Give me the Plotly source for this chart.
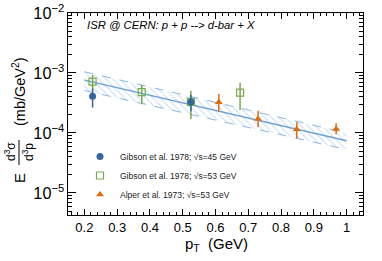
import plotly.graph_objects as go

# ---- data ----
gib45_pt = [0.225, 0.525]
gib45_y = [4.1e-4, 3.3e-4]
gib45_ep = [1.4e-4, 1.0e-4]
gib45_em = [1.45e-4, 1.0e-4]

gib53_pt = [0.225, 0.375, 0.525, 0.675]
gib53_y = [7.2e-4, 4.8e-4, 3.3e-4, 4.7e-4]
gib53_ep = [2.1e-4, 1.5e-4, 1.77e-4, 2.2e-4]
gib53_em = [2.1e-4, 1.8e-4, 1.61e-4, 2.28e-4]

alper_pt = [0.61, 0.73, 0.848, 0.968]
alper_y = [3.24e-4, 1.71e-4, 1.15e-4, 1.17e-4]
alper_ep = [1.23e-4, 0.64e-4, 0.36e-4, 0.28e-4]
alper_em = [0.97e-4, 0.465e-4, 0.34e-4, 0.22e-4]

fit_pt = [0.2, 1.0]
fit_y = [7.6e-4, 7.4e-5]
band_hi = [1.05e-3, 1.0e-4]
band_lo = [5.1e-4, 5.3e-5]

x_ticks = [0.2, 0.3, 0.4, 0.5, 0.6, 0.7, 0.8, 0.9, 1.0]
x_ticktext = ["0.2", "0.3", "0.4", "0.5", "0.6", "0.7", "0.8", "0.9", "1"]

names = ["Gibson et al. 1978; √s=45 GeV",
         "Gibson et al. 1978; √s=53 GeV",
         "Alper et al. 1973; √s=53 GeV"]

BLUE = "#33669e"
GREEN = "#77ad4a"
ORANGE = "#e06c0a"
LINE = "#6b9fd6"
BAND = "#8db6e6"

fig = go.Figure()

# band
fig.add_trace(go.Scatter(x=fit_pt, y=band_lo, mode="lines",
                         line=dict(color=BAND, width=1, dash="dash"),
                         showlegend=False, hoverinfo="skip"))
fig.add_trace(go.Scatter(x=fit_pt, y=band_hi, mode="lines",
                         line=dict(color=BAND, width=1, dash="dash"),
                         fill="tonexty", fillcolor="rgba(0,0,0,0)",
                         fillpattern=dict(shape="\\", fgcolor=BAND, size=5, solidity=0.2),
                         showlegend=False, hoverinfo="skip"))
fig.add_trace(go.Scatter(x=fit_pt, y=fit_y, mode="lines",
                         line=dict(color=LINE, width=1.5),
                         showlegend=False, hoverinfo="skip"))

fig.add_trace(go.Scatter(x=gib53_pt, y=gib53_y, mode="markers", showlegend=False,
                         marker=dict(symbol="square-open", size=7, color=GREEN, line=dict(width=1.2)),
                         error_y=dict(type="data", symmetric=False, array=gib53_ep, arrayminus=gib53_em,
                                      color=GREEN, thickness=1.5, width=0)))
fig.add_trace(go.Scatter(x=gib45_pt, y=gib45_y, mode="markers", showlegend=False,
                         marker=dict(symbol="circle", size=7, color=BLUE),
                         error_y=dict(type="data", symmetric=False, array=gib45_ep, arrayminus=gib45_em,
                                      color=BLUE, thickness=1.5, width=0)))
fig.add_trace(go.Scatter(x=alper_pt, y=alper_y, mode="markers", showlegend=False,
                         marker=dict(symbol="triangle-up", size=7, color=ORANGE),
                         error_y=dict(type="data", symmetric=False, array=alper_ep, arrayminus=alper_em,
                                      color=ORANGE, thickness=1.5, width=0)))

# legend entries
leg_styles = [dict(symbol="circle", size=7, color=BLUE),
              dict(symbol="square-open", size=7, color=GREEN, line=dict(width=1.2)),
              dict(symbol="triangle-up", size=7, color=ORANGE)]
for nm, st in zip(names, leg_styles):
    fig.add_trace(go.Scatter(x=[None], y=[None], mode="markers", name=nm, marker=st))

L, R, T, B = 68, 19, 13, 46
W, H = 382, 261
pw, ph = W - L - R, H - T - B

def px(xp):
    return (xp - L) / pw

def py(yp):
    return (H - B - yp) / ph

fig.update_layout(
    width=W, height=H,
    margin=dict(l=L, r=R, t=T, b=B, pad=0),
    paper_bgcolor="white", plot_bgcolor="white",
    font=dict(family="Liberation Sans, Arial, sans-serif", color="black"),
    showlegend=True,
    legend=dict(x=px(80), y=py(142), xanchor="left", yanchor="top",
                bgcolor="rgba(0,0,0,0)", borderwidth=0,
                font=dict(size=8.5, color="#222222"),
                traceorder="normal", itemwidth=30,
                tracegroupgap=0),
    xaxis=dict(range=[0.15, 1.05], tickvals=x_ticks, ticktext=x_ticktext,
               ticks="inside", ticklen=6, tickwidth=1, tickcolor="black",
               showline=True, linecolor="black", linewidth=1, mirror="allticks",
               showgrid=False, zeroline=False, automargin=False,
               tickfont=dict(size=13),
               minor=dict(dtick=0.02, tick0=0, ticks="inside", ticklen=3, tickcolor="black")),
    yaxis=dict(type="log", range=[-5.367, -2], dtick=1, exponentformat="power",
               ticks="inside", ticklen=8, tickwidth=1, tickcolor="black",
               showline=True, linecolor="black", linewidth=1, mirror="allticks",
               showgrid=False, zeroline=False, automargin=False,
               tickfont=dict(size=13),
               minor=dict(dtick="D1", ticks="inside", ticklen=4, tickcolor="black")),
)

ann = []
ann.append(dict(text="<i>ISR @ CERN: p + p --&gt; d-bar + X</i>", x=px(85), y=py(25),
                xref="paper", yref="paper", xanchor="left", yanchor="middle",
                showarrow=False, font=dict(size=11.3)))
ann.append(dict(text="p<sub>T</sub>  (GeV)", x=px(216), y=py(245),
                xref="paper", yref="paper", xanchor="center", yanchor="middle",
                showarrow=False, font=dict(size=15)))
ann.append(dict(text="E", x=px(19), y=py(178), xref="paper", yref="paper",
                xanchor="center", yanchor="middle", textangle=-90,
                showarrow=False, font=dict(size=15)))
ann.append(dict(text="d<sup>3</sup>σ", x=px(10), y=py(152), xref="paper", yref="paper",
                xanchor="center", yanchor="middle", textangle=-90,
                showarrow=False, font=dict(size=12)))
ann.append(dict(text="d<sup>3</sup>p", x=px(28), y=py(152), xref="paper", yref="paper",
                xanchor="center", yanchor="middle", textangle=-90,
                showarrow=False, font=dict(size=12)))
ann.append(dict(text="(mb/GeV<sup>2</sup>)", x=px(19), y=py(92), xref="paper", yref="paper",
                xanchor="center", yanchor="middle", textangle=-90,
                showarrow=False, font=dict(size=14.5)))
fig.update_layout(annotations=ann)
fig.add_shape(type="line", xref="paper", yref="paper",
              x0=px(19), x1=px(19), y0=py(140), y1=py(165),
              line=dict(color="black", width=1))

fig.write_html("out.html", config={"displayModeBar": False},
               post_script="document.body.style.margin='0px';document.body.style.padding='0px';")
